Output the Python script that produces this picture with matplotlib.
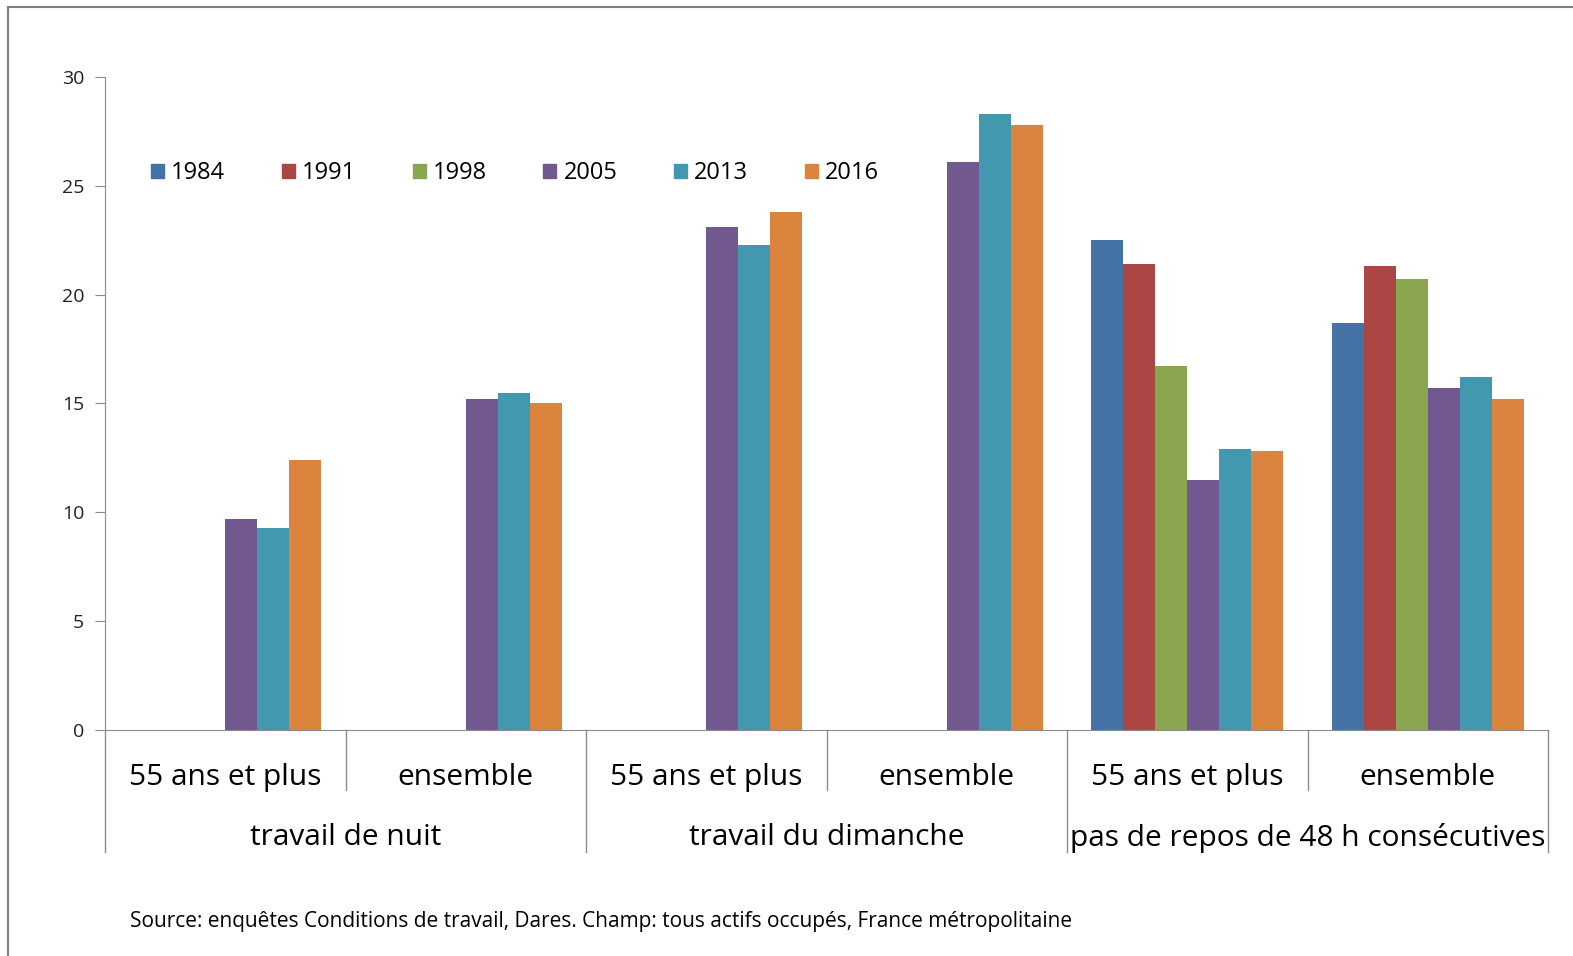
import numpy as np
import matplotlib
matplotlib.use("Agg")
import matplotlib.pyplot as plt
from matplotlib.patches import Rectangle
from matplotlib.lines import Line2D

plt.rcParams['font.family'] = ['Open Sans', 'DejaVu Sans']

# donnees
annees = ["1984", "1991", "1998", "2005", "2013", "2016"]
sous_groupes = ["55 ans et plus", "ensemble"] * 3
groupes = ["travail de nuit", "travail du dimanche", "pas de repos de 48 h consécutives"]
couleurs = ["#4572A7", "#AA4643", "#89A54E", "#71588F", "#4198AF", "#DB843D"]

v1984 = [np.nan, np.nan, np.nan, np.nan, 22.5, 18.7]
v1991 = [np.nan, np.nan, np.nan, np.nan, 21.4, 21.3]
v1998 = [np.nan, np.nan, np.nan, np.nan, 16.7, 20.7]
v2005 = [9.7, 15.2, 23.1, 26.1, 11.5, 15.7]
v2013 = [9.3, 15.5, 22.3, 28.3, 12.9, 16.2]
v2016 = [12.4, 15.0, 23.8, 27.8, 12.8, 15.2]
series = [v1984, v1991, v1998, v2005, v2013, v2016]

W, H = 1573, 956
fig = plt.figure(figsize=(W / 100, H / 100), dpi=100)
ax = fig.add_axes([105 / W, 1 - 730 / H, (1548 - 105) / W, (730 - 77) / H])

x = np.arange(len(sous_groupes))
larg = 0.8 / 6
for i, (an, vals) in enumerate(zip(annees, series)):
    ax.bar(x - 0.4 + larg * (i + 0.5), vals, width=larg, color=couleurs[i], label=an)

ax.set_xlim(-0.5, len(sous_groupes) - 0.5)
ax.set_ylim(0, 30)
ax.set_yticks(range(0, 31, 5))
ax.set_xticks([])
gris = "#8c8c8c"
for s in ["top", "right"]:
    ax.spines[s].set_visible(False)
ax.spines["left"].set_color(gris)
ax.spines["bottom"].set_color(gris)
ax.tick_params(axis="y", length=7, color=gris, labelsize=14, labelcolor="#222222", pad=8)

# etiquettes de categories sur deux niveaux
tr = ax.get_xaxis_transform()
for xi, lab in zip(x, sous_groupes):
    ax.text(xi, -0.072, lab, transform=tr, ha="center", va="center", fontsize=21.5)
for g, lab in enumerate(groupes):
    ax.text(2 * g + 0.5, -0.165, lab, transform=tr, ha="center", va="center", fontsize=21.5)
for b in np.arange(-0.5, 6, 1.0):
    bas = -0.187 if (b + 0.5) % 2 == 0 else -0.092
    ax.add_line(Line2D([b, b], [0, bas], transform=tr, color=gris, lw=1, clip_on=False))

poignees = [Rectangle((0, 0), 1, 1, color=c) for c in couleurs]
ax.legend(poignees, annees, loc="center left", bbox_to_anchor=(0.017, 0.853), ncol=6,
          frameon=False, fontsize=17, handlelength=0.55, handleheight=0.55,
          handletextpad=0.3, columnspacing=2.4)

fig.text(130 / W, 1 - 921 / H, "Source: enquêtes Conditions de travail, Dares. Champ: tous actifs occupés, France métropolitaine",
         fontsize=15, va="center", ha="left")

fig.patches.append(Rectangle((8 / W, -0.1), 1.2, 1 - 7 / H + 0.1, transform=fig.transFigure,
                             fill=False, edgecolor="#7f7f7f", lw=1.5))

fig.savefig("out.png", dpi=100)
